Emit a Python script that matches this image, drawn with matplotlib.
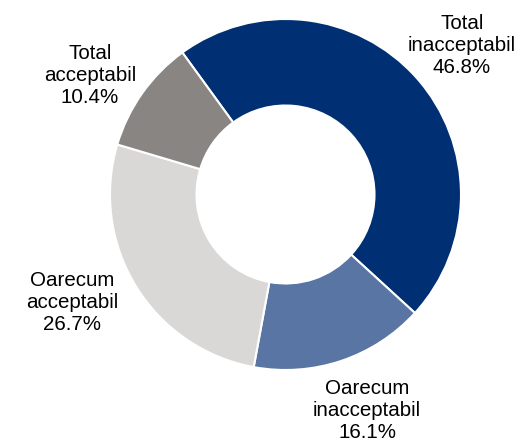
'''
Donut chart of acceptability responses
'''

import matplotlib.pyplot as plt

# ========================================================================
# data
# ========================================================================
labels = ['Total\ninacceptabil', 'Oarecum\ninacceptabil',
          'Oarecum\nacceptabil', 'Total\nacceptabil']
values = [46.8, 16.1, 26.7, 10.4]
colors = ['#003073', '#5975a4', '#d9d8d7', '#888582']

# label centres (pixels from top-left of image)
label_xy = [(462, 45), (367, 410), (72, 302), (90, 75)]

# ========================================================================
# plot
# ========================================================================
plt.rcParams['font.family'] = ['Liberation Sans', 'DejaVu Sans']

W, H = 521, 443
fig = plt.figure(figsize=(W/100, H/100), dpi=100)
ax = fig.add_axes([0, 0, 1, 1])

cx, cy, r_out = 285.5, H - 194.5, 175.5
r_in = 89

ax.pie(values, colors=colors, startangle=126, counterclock=False,
       radius=r_out, center=(cx, cy), frame=True,
       wedgeprops=dict(width=r_out - r_in, edgecolor='white', linewidth=1.5))
ax.set_xlim(0, W)
ax.set_ylim(0, H)
ax.set_aspect('equal')
ax.axis('off')

for lab, v, (x, y) in zip(labels, values, label_xy):
    ax.text(x, H - y, lab + '\n' + f'{v:.1f}%', ha='center', va='center',
            fontsize=14.8, linespacing=1.2, color='black')

plt.savefig('out.png', dpi=100)
